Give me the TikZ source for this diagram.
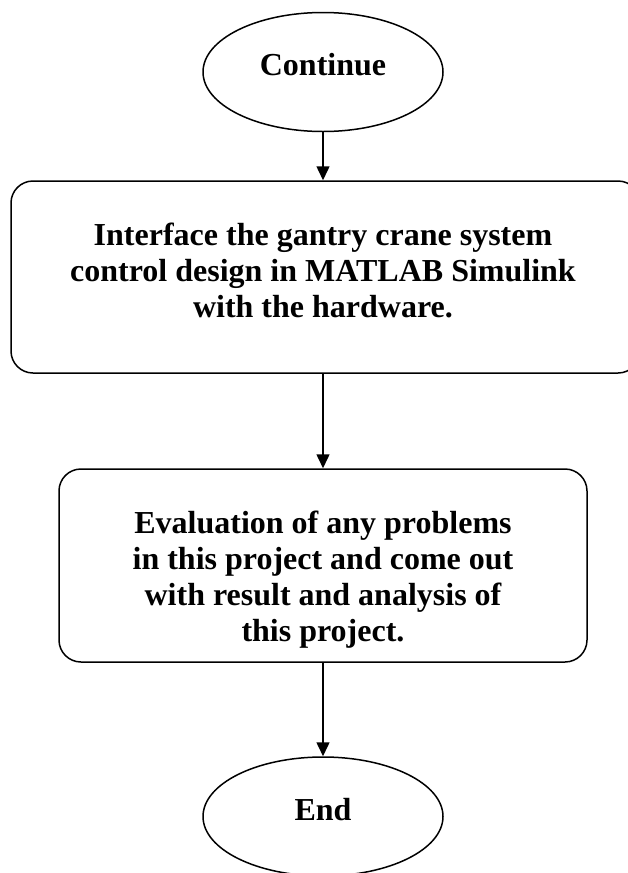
\documentclass[tikz,border=0pt]{standalone}
\usepackage{fontspec}
\setmainfont{Liberation Serif}
\usetikzlibrary{shapes.geometric,arrows.meta}
\begin{document}
\begin{tikzpicture}[x=1pt,y=-1pt,
  flow/.style={line width=1.5pt,-{Triangle[length=14pt,width=13pt]}},
  oval/.style={ellipse,draw,line width=1.5pt,minimum width=240pt,minimum height=119pt,inner sep=0pt},
  rbox/.style={draw,rounded corners=22pt,line width=1.5pt,inner sep=0pt},
  txt/.style={align=center,font=\fontsize{32}{36}\selectfont\bfseries,inner sep=0pt}]
\useasboundingbox (0,0) rectangle (628,873);
% shapes
\node[oval] (c) at (323,72) {};
\node[rbox,minimum width=629pt,minimum height=192pt] (b1) at (325.5,277) {};
\node[rbox,minimum width=528pt,minimum height=193pt] (b2) at (323,565.5) {};
\node[oval] (e) at (323,816.5) {};
% texts
\node[txt,anchor=base] (ct) at (323,75) {Continue};
\node[txt] (t1) at (323,270) {Interface the gantry crane system\\control design in MATLAB Simulink\\with the hardware.};
\node[txt] (t2) at (323,579.5) {Evaluation of any problems\\in this project and come out\\with result and analysis of\\this project.};
\node[txt,anchor=base] (et) at (323,820) {End};
% connectors
\draw[flow] (c.south) -- (c.south |- b1.north);
\draw[flow] (c.south |- b1.south) -- (b2.north);
\draw[flow] (b2.south) -- (e.north);
\end{tikzpicture}
\end{document}
